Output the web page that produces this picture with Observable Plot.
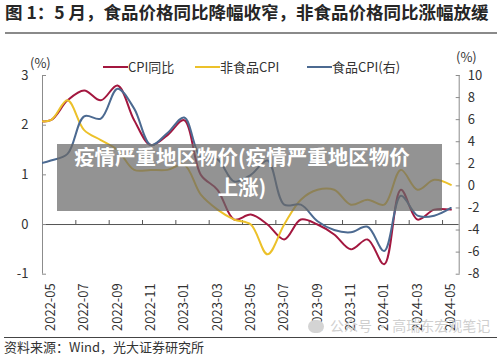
<!DOCTYPE html>
<html><head><meta charset="utf-8">
<script src="https://cdn.jsdelivr.net/npm/d3@7"></script>
<script src="https://cdn.jsdelivr.net/npm/@observablehq/plot@0.6"></script>
<style>
body{margin:0;background:#fff;}
#wrap{position:relative;width:500px;height:356px;overflow:hidden;font-family:"Noto Sans CJK SC","Noto Sans",sans-serif;color:#333;background:#fff;}
#chart{position:absolute;left:0;top:0;}
#title{position:absolute;left:5px;top:0px;font-size:17.5px;font-weight:bold;color:#262626;white-space:nowrap;line-height:24px;}
#rule1{position:absolute;left:5px;top:32px;width:492px;height:2px;background:#8a8a8a;}
#rule2{position:absolute;left:4px;top:337px;width:493px;height:1px;background:#444;}
#source{position:absolute;left:4px;top:338px;font-size:13px;line-height:18px;color:#333;white-space:nowrap;}
.unit{position:absolute;font-size:13px;line-height:14px;color:#333;}
#legend{position:absolute;top:58px;left:0;font-size:13px;line-height:17px;color:#333;}
.li{position:absolute;white-space:nowrap;top:0;}
.sw{display:inline-block;width:25px;height:2px;vertical-align:middle;margin-right:0px;position:relative;top:-1px;}
#overlay{position:absolute;left:57px;top:144px;width:385px;height:67px;background:rgba(105,105,105,0.72);}
.otext{position:absolute;left:57px;width:370px;text-align:center;color:#fff;font-weight:bold;font-size:20.5px;line-height:30px;white-space:nowrap;}
#wm{position:absolute;left:308px;top:316px;font-size:14px;color:#cfcfcf;white-space:nowrap;line-height:18px;}
#wm i{display:inline-block;width:16px;height:13px;border-radius:7px;background:#d4d4d4;vertical-align:middle;margin-right:6px;position:relative;top:-1px;}
</style></head><body>
<div id="wrap">
  <div id="chart"></div>
  <div id="title">图 1：5 月，食品价格同比降幅收窄，非食品价格同比涨幅放缓</div>
  <div id="rule1"></div>
  <div class="unit" style="left:30px;top:56px;">(%)</div>
  <div class="unit" style="left:456px;top:50px;">(%)</div>
  <div id="legend"></div>
  <div id="overlay"></div>
  <div class="otext" style="top:141px;">疫情严重地区物价(疫情严重地区物价</div>
  <div class="otext" style="top:171px;">上涨)</div>
  <div id="wm"><i></i>公众号 · 高瑞东宏观笔记</div>
  <div id="rule2"></div>
  <div id="source">资料来源：Wind，光大证券研究所</div>
</div>
<script>
// Months (first one is just outside the plotted range, clipped at the left axis)
const months = ["2022-04","2022-05","2022-06","2022-07","2022-08","2022-09","2022-10","2022-11","2022-12",
  "2023-01","2023-02","2023-03","2023-04","2023-05","2023-06","2023-07","2023-08","2023-09","2023-10","2023-11","2023-12",
  "2024-01","2024-02","2024-03","2024-04","2024-05"];
// CPI YoY (%), left axis
const cpi = [2.1, 2.1, 2.5, 2.7, 2.5, 2.8, 2.1, 1.6, 1.8, 2.1, 1.0, 0.7, 0.1, 0.2, 0.0, -0.3, 0.1, 0.0, -0.2, -0.5, -0.3, -0.8, 0.7, 0.1, 0.3, 0.3];
// Non-food CPI YoY (%), left axis
const nonFood = [2.1, 2.1, 2.5, 1.9, 1.7, 1.5, 1.1, 1.1, 1.1, 1.2, 0.6, 0.3, 0.1, 0.0, -0.6, 0.0, 0.5, 0.7, 0.7, 0.4, 0.5, 0.4, 1.1, 0.7, 0.9, 0.8];
// Food CPI YoY (%), right axis
const food = [1.9, 2.3, 2.9, 6.3, 6.1, 8.8, 7.0, 3.7, 4.8, 6.2, 2.6, 2.4, 0.4, 1.0, 2.3, -1.7, -1.7, -3.2, -4.0, -4.2, -3.7, -5.9, -0.9, -2.7, -2.7, -2.0];

const seriesNames = ["CPI同比", "非食品CPI", "食品CPI(右)"];
const colors = ["#a3173f", "#ecc12a", "#4c6a91"];
const leftTicks = [-1, 0, 1, 2, 3];
const rightTicks = [-8, -6, -4, -2, 0, 2, 4, 6, 8, 10];

const leftDomain = [-1, 3];
const rightDomain = [-8, 10];
const toLeft = r => leftDomain[0] + (r - rightDomain[0]) * (leftDomain[1] - leftDomain[0]) / (rightDomain[1] - rightDomain[0]);
const fromLeft = l => rightDomain[0] + (l - leftDomain[0]) * (rightDomain[1] - rightDomain[0]) / (leftDomain[1] - leftDomain[0]);

const first = 1; // index of 2022-05
const rows = months.map((m, k) => ({i: k - first, m, cpi: cpi[k], nonFood: nonFood[k], food: food[k]}));
const nShown = months.length - first;
const xDomain = [-0.5, nShown - 0.5];
const labelIdx = rows.filter(d => d.i >= 0 && d.i % 2 === 0).map(d => d.i);
const boundaries = labelIdx.filter(i => i > 0).map(i => i - 0.5);

const axisColor = "#8c8c8c";

const chart = Plot.plot({
  width: 500, height: 356,
  marginLeft: 42, marginRight: 41.3, marginTop: 75, marginBottom: 82.3,
  x: {type: "linear", domain: xDomain, axis: null},
  y: {domain: leftDomain, axis: null},
  style: {fontFamily: "'Noto Sans CJK SC','Noto Sans',sans-serif", fontSize: "13px", color: "#333", background: "transparent", overflow: "visible"},
  marks: [
    Plot.ruleY([0], {stroke: "#555", strokeWidth: 1}),
    Plot.ruleX([xDomain[0]], {y1: leftDomain[0], y2: leftDomain[1], stroke: axisColor}),
    Plot.ruleX([xDomain[1]], {y1: leftDomain[0], y2: leftDomain[1], stroke: axisColor}),
    Plot.ruleX(boundaries, {y1: 0, y2: 0, insetTop: -4, stroke: "#555"}),
    Plot.axisY({anchor: "left", ticks: leftTicks, tickFormat: v => String(v), label: null, tickSize: -4, tickPadding: 18, stroke: axisColor, fill: "#333", fontSize: 13}),
    Plot.axisY({anchor: "right", ticks: rightTicks.map(toLeft), tickFormat: v => String(Math.round(fromLeft(v))), label: null, tickSize: -4, tickPadding: 12.5, stroke: axisColor, fill: "#333", fontSize: 13}),
    Plot.axisX({anchor: "bottom", ticks: labelIdx, tickFormat: i => months[i + first], label: null, tickRotate: -90, tickSize: 0, tickPadding: 9, fill: "#333", fontSize: 13}),
    Plot.line(rows, {x: "i", y: "cpi", stroke: colors[0], strokeWidth: 2, curve: "catmull-rom", clip: true}),
    Plot.line(rows, {x: "i", y: "nonFood", stroke: colors[1], strokeWidth: 2, curve: "catmull-rom", clip: true}),
    Plot.line(rows, {x: "i", y: d => toLeft(d.food), stroke: colors[2], strokeWidth: 2, curve: "catmull-rom", clip: true})
  ]
});
document.getElementById("chart").appendChild(chart);

// legend
const legendX = [103, 195, 307];
const legend = document.getElementById("legend");
seriesNames.forEach((name, k) => {
  const d = document.createElement("div");
  d.className = "li";
  d.style.left = legendX[k] + "px";
  d.innerHTML = `<span class="sw" style="background:${colors[k]}"></span>${name}`;
  legend.appendChild(d);
});
</script>
</body></html>
